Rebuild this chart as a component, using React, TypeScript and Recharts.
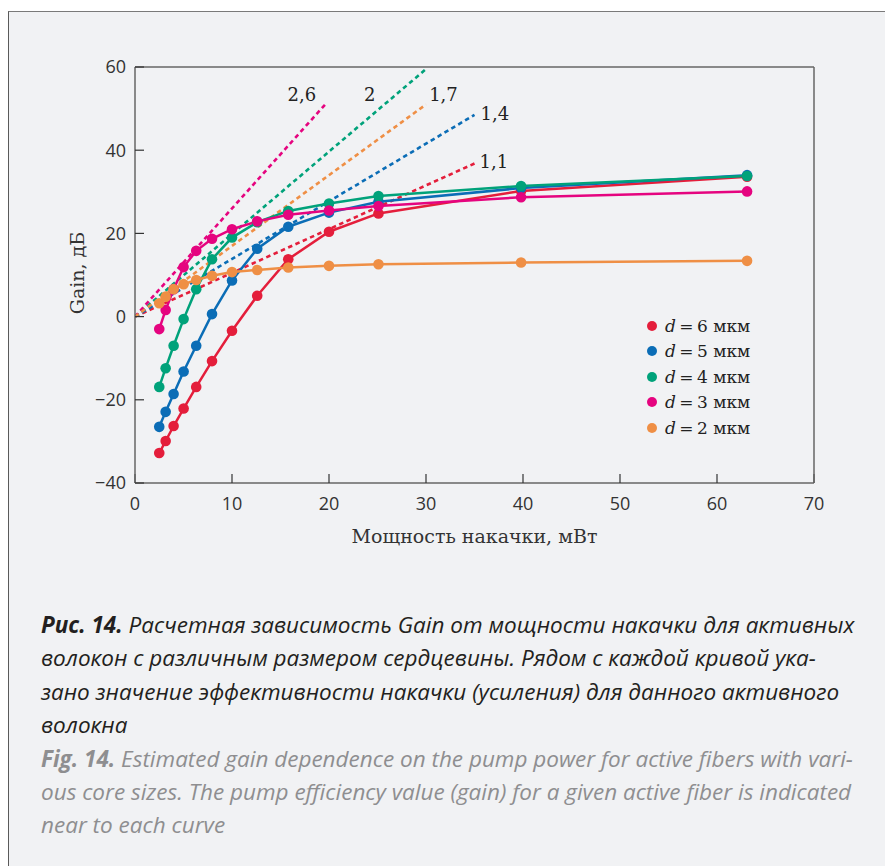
import React from 'react';
import { LineChart, Line, XAxis, YAxis, ReferenceDot } from 'recharts';

// Pump power, mW (shared x values of all curves)
const powerMw = [2.5, 3.16, 3.98, 5.01, 6.31, 7.94, 10, 12.6, 15.8, 20, 25.1, 39.8, 63.1];

// Gain, dB for each core diameter
const gainD6 = [-32.8, -29.9, -26.3, -22.1, -16.9, -10.7, -3.4, 5.0, 13.8, 20.4, 24.8, 30.2, 33.6];
const gainD5 = [-26.5, -22.9, -18.6, -13.2, -7.0, 0.6, 8.7, 16.3, 21.6, 25.0, 27.6, 30.9, 34.0];
const gainD4 = [-16.9, -12.4, -7.0, -0.6, 6.6, 13.8, 19.0, 22.7, 25.4, 27.2, 29.0, 31.4, 33.8];
const gainD3 = [-3.0, 1.6, 6.6, 11.9, 15.8, 18.7, 21.0, 22.9, 24.5, 25.5, 26.6, 28.7, 30.1];
const gainD2 = [3.2, 4.8, 6.6, 7.8, 8.8, 9.8, 10.7, 11.2, 11.8, 12.2, 12.6, 13.0, 13.4];

const diameters = ['6', '5', '4', '3', '2'];
const colors = ['#e41e3b', '#0b6db6', '#00a27a', '#e5047f', '#ef8f45'];
const gains = [gainD6, gainD5, gainD4, gainD3, gainD2];

// Pump efficiency (dashed) lines: start and end points, and labels
const effLabels = ['1,1', '1,4', '2', '2,6', '1,7'];
const effStartX = [0, 0, 0, 0, 0];
const effStartY = [0, 0, 0, 0, 0];
const effEndX = [35, 35, 30, 19.8, 30];
const effEndY = [36.8, 48.5, 59.5, 51.5, 51.0];
const effLabelX = [37.0, 37.1, 24.2, 17.2, 31.8];
const effLabelY = [37.2, 48.7, 53.4, 53.4, 53.4];

const xTicks = [0, 10, 20, 30, 40, 50, 60, 70];
const yTicks = [-40, -20, 0, 20, 40, 60];

const captionRu = [
  'Расчетная зависимость Gain от мощности накачки для активных',
  'волокон с различным размером сердцевины. Рядом с каждой кривой ука-',
  'зано значение эффективности накачки (усиления) для данного активного',
  'волокна',
];
const captionEn = [
  'Estimated gain dependence on the pump power for active fibers with vari-',
  'ous core sizes. The pump efficiency value (gain) for a given active fiber is indicated',
  'near to each curve',
];

const solidSeries = gains.map((vals, i) => ({
  name: 'd' + diameters[i],
  color: colors[i],
  data: powerMw.map((p, j) => ({ x: p, y: vals[j] })),
}));
const dashedSeries = effLabels.map((lab, i) => ({
  name: 'eff' + lab,
  color: colors[i],
  data: [
    { x: effStartX[i], y: effStartY[i] },
    { x: effEndX[i], y: effEndY[i] },
  ],
}));

const fmt = (v: number) => (v < 0 ? '\u2212' + Math.abs(v) : String(v));
const SERIF = '"DejaVu Serif", serif';
const SANS = '"Open Sans", sans-serif';

export default function App() {
  return (
    <div style={{ position: 'absolute', left: 0, top: 0, width: 885, height: 866, background: '#fff', overflow: 'hidden' }}>
      <div
        style={{
          position: 'absolute', left: 8, top: 11, width: 900, height: 900,
          borderLeft: '1.5px solid #5a5a5a', borderTop: '1.5px solid #7a7a7a', background: '#f1f2f4',
        }}
      />
      <div style={{ position: 'absolute', left: 0, top: 0 }}>
        <LineChart width={885} height={570} margin={{ top: 66, right: 70, bottom: 86, left: 134 }}>
          <XAxis
            xAxisId="b"
            type="number" dataKey="x" domain={[0, 70]} ticks={xTicks} height={1}
            allowDataOverflow
            tickSize={-9} tickMargin={23}
            stroke="#666" strokeWidth={1.5}
            tickLine={{ stroke: '#333', strokeWidth: 1.2 }}
            tick={{ fill: '#333', fontSize: 18, fontFamily: SANS }}
            label={{
              content: (p: any) => {
                const vb = p.viewBox || {};
                return (
                  <text x={vb.x + vb.width / 2} y={543} textAnchor="middle" fill="#333" fontSize={19} fontFamily={SERIF}>
                    Мощность накачки, мВт
                  </text>
                );
              },
            }}
          />
          <XAxis xAxisId="t" orientation="top" type="number" dataKey="x" domain={[0, 70]} height={1} tick={false} tickLine={false} stroke="#666" strokeWidth={1.5} allowDataOverflow />
          <YAxis
            yAxisId="l"
            type="number" domain={[-40, 60]} ticks={yTicks} width={1}
            allowDataOverflow
            tickSize={-9} tickMargin={18}
            stroke="#666" strokeWidth={1.5}
            tickLine={{ stroke: '#333', strokeWidth: 1.2 }}
            tick={{ fill: '#333', fontSize: 18, fontFamily: SANS }}
            tickFormatter={fmt}
            label={{
              content: (p: any) => {
                const vb = p.viewBox || {};
                const cx = 79;
                const cy = vb.y + vb.height / 2 - 2;
                return (
                  <text x={cx} y={cy} transform={`rotate(-90, ${cx}, ${cy})`} textAnchor="middle" dominantBaseline="middle" fill="#333" fontSize={19} fontFamily={SERIF}>
                    Gain, дБ
                  </text>
                );
              },
            }}
          />
          <YAxis yAxisId="r" orientation="right" type="number" domain={[-40, 60]} width={1} tick={false} tickLine={false} stroke="#666" strokeWidth={1.5} allowDataOverflow />

          {dashedSeries.map((s) => (
            <Line
              key={s.name} xAxisId="b" yAxisId="l" data={s.data} dataKey="y" type="linear" stroke={s.color}
              strokeWidth={2.6} strokeDasharray="4.5 3.5" dot={false} activeDot={false}
              isAnimationActive={false} legendType="none"
            />
          ))}
          {solidSeries.map((s) => (
            <Line
              key={s.name} xAxisId="b" yAxisId="l" data={s.data} dataKey="y" type="linear" stroke={s.color}
              strokeWidth={2.5}
              dot={{ r: 5.3, fill: s.color, stroke: s.color, strokeWidth: 0 }}
              activeDot={false} isAnimationActive={false}
            />
          ))}
          {effLabels.map((lab, i) => (
            <ReferenceDot
              key={'lab' + i} xAxisId="b" yAxisId="l" x={effLabelX[i]} y={effLabelY[i]} r={0} fill="none" stroke="none"
              label={{ value: lab, position: 'center', fill: '#222', fontSize: 18, fontFamily: SERIF }}
            />
          ))}
        </LineChart>
      </div>

      <div style={{ position: 'absolute', left: 647, top: 313, fontFamily: SERIF, fontSize: 17, color: '#222' }}>
        {diameters.map((d, i) => (
          <div key={d} style={{ height: 25.5, display: 'flex', alignItems: 'center' }}>
            <span style={{ display: 'inline-block', width: 10, height: 10, borderRadius: 5, background: colors[i], marginRight: 8 }} />
            <span><i>d</i>{'\u2009=\u2009'}{d} мкм</span>
          </div>
        ))}
      </div>

      <div style={{ position: 'absolute', left: 41, top: 608, fontFamily: SANS, fontStyle: 'italic', fontSize: 22.5, lineHeight: '33.4px', whiteSpace: 'nowrap' }}>
        {captionRu.map((line, i) => (
          <div key={'ru' + i} style={{ color: '#231f20' }}>
            {i === 0 ? <b>Рис. 14. </b> : null}
            {line}
          </div>
        ))}
        {captionEn.map((line, i) => (
          <div key={'en' + i} style={{ color: '#8e8e90' }}>
            {i === 0 ? <b>Fig. 14. </b> : null}
            {line}
          </div>
        ))}
      </div>
    </div>
  );
}
